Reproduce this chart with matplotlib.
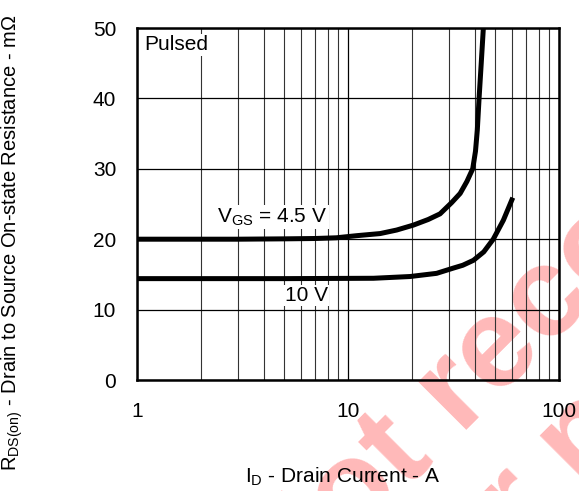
import matplotlib
matplotlib.use("Agg")
import matplotlib.pyplot as plt

plt.rcParams['font.family'] = ['Liberation Sans', 'DejaVu Sans']
plt.rcParams['mathtext.fontset'] = 'custom'
plt.rcParams['mathtext.rm'] = 'Liberation Sans'
plt.rcParams['mathtext.it'] = 'Liberation Sans'

# V_GS = 4.5 V curve (I_D in A, R in mOhm)
id_45 = [1, 3, 5, 7, 8.8, 11, 14.2, 17, 20.4, 24, 27.3, 31, 34, 36.6, 39, 40.2, 41, 41.8, 42.8, 43.8]
r_45 = [20, 20, 20.05, 20.1, 20.2, 20.5, 20.8, 21.3, 22.0, 22.8, 23.6, 25.2, 26.5, 28.2, 30, 32.5, 35.5, 40, 45, 50]

# V_GS = 10 V curve
id_10 = [1, 5, 13.2, 19.7, 26.3, 31.6, 35, 39.3, 44, 48.8, 54.5, 60.4]
r_10 = [14.4, 14.4, 14.45, 14.7, 15.15, 15.9, 16.3, 17.0, 18.2, 20.0, 22.7, 25.9]

yticks = [0, 10, 20, 30, 40, 50]
xticks = [1, 10, 100]

fig = plt.figure(figsize=(5.79, 4.91), dpi=100)
ax = fig.add_axes([137/579, 1-380/491, 422/579, 352/491])
ax.patch.set_alpha(0)

# watermark behind the chart
wm = dict(color='#ff0000', alpha=0.28, fontsize=92, fontweight='bold',
          rotation=45, rotation_mode='anchor', ha='left', va='center', zorder=-5)
fig.text(262/579, 1-588/491, 'Not recommended', **wm)
fig.text(414/579, 1-612/491, 'for new designs', **wm)

ax.plot(id_45, r_45, color='black', lw=3.6, solid_capstyle='butt', zorder=3)
ax.plot(id_10, r_10, color='black', lw=3.6, solid_capstyle='butt', zorder=3)

ax.set_xscale('log')
ax.set_xlim(1, 100)
ax.set_ylim(0, 50)
ax.set_xticks(xticks)
ax.set_xticklabels([str(t) for t in xticks])
ax.set_yticks(yticks)
ax.grid(True, which='major', color='black', lw=0.9)
ax.grid(True, which='minor', axis='x', color='#333333', lw=0.8)
ax.tick_params(which='both', length=0, labelsize=15)
ax.tick_params(axis='x', pad=16)
ax.tick_params(axis='y', pad=15)
ax.xaxis.set_minor_formatter(matplotlib.ticker.NullFormatter())
for s in ax.spines.values():
    s.set_linewidth(1.8)

box = dict(facecolor='white', edgecolor='none', pad=1)
ax.text(1.08, 47.6, 'Pulsed', fontsize=15, ha='left', va='center', bbox=box)
ax.text(8.0, 23.15, r'V$_{\mathrm{GS}}$ = 4.5 V', fontsize=15, ha='right', va='center', bbox=box)
ax.text(8.0, 12.0, '10 V', fontsize=15, ha='right', va='center', bbox=box)

fig.text(12/579, 1-243/491, r'R$_{\mathrm{DS(on)}}$ - Drain to Source On-state Resistance - m$\Omega$',
         rotation=90, fontsize=14.5, ha='center', va='center')
fig.text(343/579, 1-477/491, r'I$_{\mathrm{D}}$ - Drain Current - A', fontsize=15, ha='center', va='center')

fig.savefig('out.png', dpi=100)
